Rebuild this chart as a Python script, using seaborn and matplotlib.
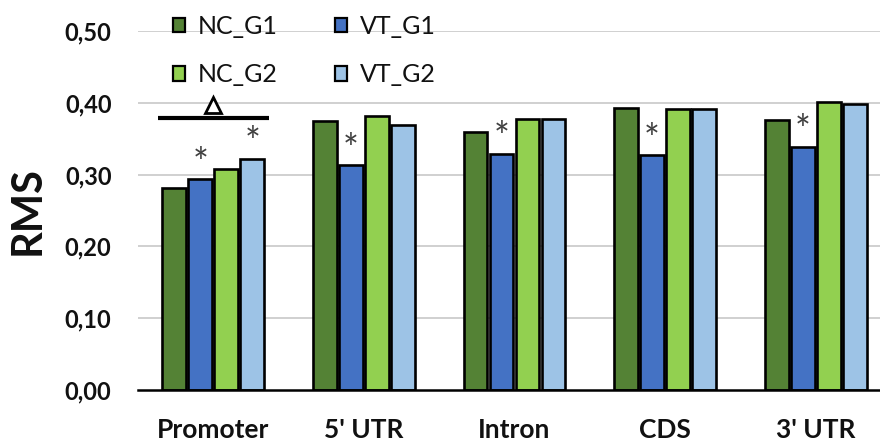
import matplotlib
matplotlib.use("Agg")
import matplotlib.pyplot as plt
from matplotlib.patches import Patch
import seaborn as sns
import pandas as pd

regions = ["Promoter", "5' UTR", "Intron", "CDS", "3' UTR"]
groups = ["NC_G1", "VT_G1", "NC_G2", "VT_G2"]
nc_g1 = [0.281, 0.374, 0.360, 0.393, 0.376]
vt_g1 = [0.294, 0.313, 0.329, 0.327, 0.339]
nc_g2 = [0.308, 0.381, 0.378, 0.392, 0.401]
vt_g2 = [0.322, 0.369, 0.378, 0.392, 0.399]
y_ticks = [0.0, 0.1, 0.2, 0.3, 0.4, 0.5]
y_tick_labels = ["0,00", "0,10", "0,20", "0,30", "0,40", "0,50"]
# significance marks: (region index, group index)
star_marks = [(0, 1), (0, 3), (1, 1), (2, 1), (3, 1), (4, 1)]

palette = {"NC_G1": "#548235", "VT_G1": "#4472C4", "NC_G2": "#92D050", "VT_G2": "#9DC3E6"}

rows = []
for i, r in enumerate(regions):
    for g, vals in zip(groups, [nc_g1, vt_g1, nc_g2, vt_g2]):
        rows.append({"region": r, "group": g, "rms": vals[i]})
df = pd.DataFrame(rows)

sns.set_theme(style="white")
plt.rcParams["font.family"] = ["Lato", "DejaVu Sans"]

fig = plt.figure(figsize=(8.8, 4.47), dpi=100)
W, H = 880, 447
left, right = 138, 880
y0_px, y5_px = 390, 31
ax = fig.add_axes([left / W, 1 - y0_px / H, (right - left) / W, (y0_px - y5_px) / H])

sns.barplot(data=df, x="region", y="rms", hue="group", hue_order=groups,
            palette=palette, order=regions, width=0.69, gap=0.08, saturation=1,
            edgecolor="black", linewidth=1.9, ax=ax, legend=False, zorder=3)

ax.set_ylim(0, 0.5)
ax.set_xlim(-0.5, 4.5 - 11 / 151)
ax.set_yticks(y_ticks)
ax.set_yticklabels(y_tick_labels, fontsize=17, fontweight="bold", color="#111111")
ax.tick_params(axis="x", length=0, pad=20, labelsize=19, labelcolor="#111111")
ax.tick_params(axis="y", length=0, pad=19)
for lbl in ax.get_xticklabels():
    lbl.set_fontweight("bold")
ax.set_xlabel("")
ax.set_ylabel("RMS", fontsize=30, fontweight="bold", labelpad=13, color="#111111")

for y in y_ticks[1:]:
    ax.axhline(y, color="#d0d0d0", linewidth=1.4, zorder=1)
for s in ["left", "right", "top"]:
    ax.spines[s].set_visible(False)
ax.spines["bottom"].set_color("black")
ax.spines["bottom"].set_linewidth(1.8)
ax.spines["bottom"].set_zorder(4)

vals_by_group = [nc_g1, vt_g1, nc_g2, vt_g2]
containers = ax.containers
for ri, gi in star_marks:
    bar = containers[gi][ri]
    cx = bar.get_x() + bar.get_width() / 2
    ax.text(cx, vals_by_group[gi][ri] + 0.02, "*", ha="center", va="center",
            fontsize=27, color="#404040", zorder=5)

# bracket over the Promoter group
b0 = containers[0][0]
b3 = containers[3][0]
x_a, x_b = b0.get_x() - 0.03, b3.get_x() + b3.get_width() + 0.03
ax.plot([x_a, x_b], [0.379, 0.379], color="black", linewidth=3, solid_capstyle="butt",
        zorder=5, clip_on=False)
ax.plot([(x_a + x_b) / 2], [0.397], marker="^", markersize=11, markerfacecolor="white",
        markeredgecolor="black", markeredgewidth=2, linestyle="none", zorder=5)

handles = [Patch(facecolor=palette[g], edgecolor="black", linewidth=1.6, label=g) for g in groups]
handles_order = [handles[0], handles[2], handles[1], handles[3]]
fig.legend(handles=handles_order, loc="upper left", bbox_to_anchor=(150 / W, 1 + 8 / H),
           ncol=2, frameon=False, fontsize=18, handlelength=0.5, handleheight=0.5,
           handletextpad=0.5, columnspacing=2.3, labelspacing=1.03, labelcolor="#111111")

fig.savefig("out.png", dpi=100)
